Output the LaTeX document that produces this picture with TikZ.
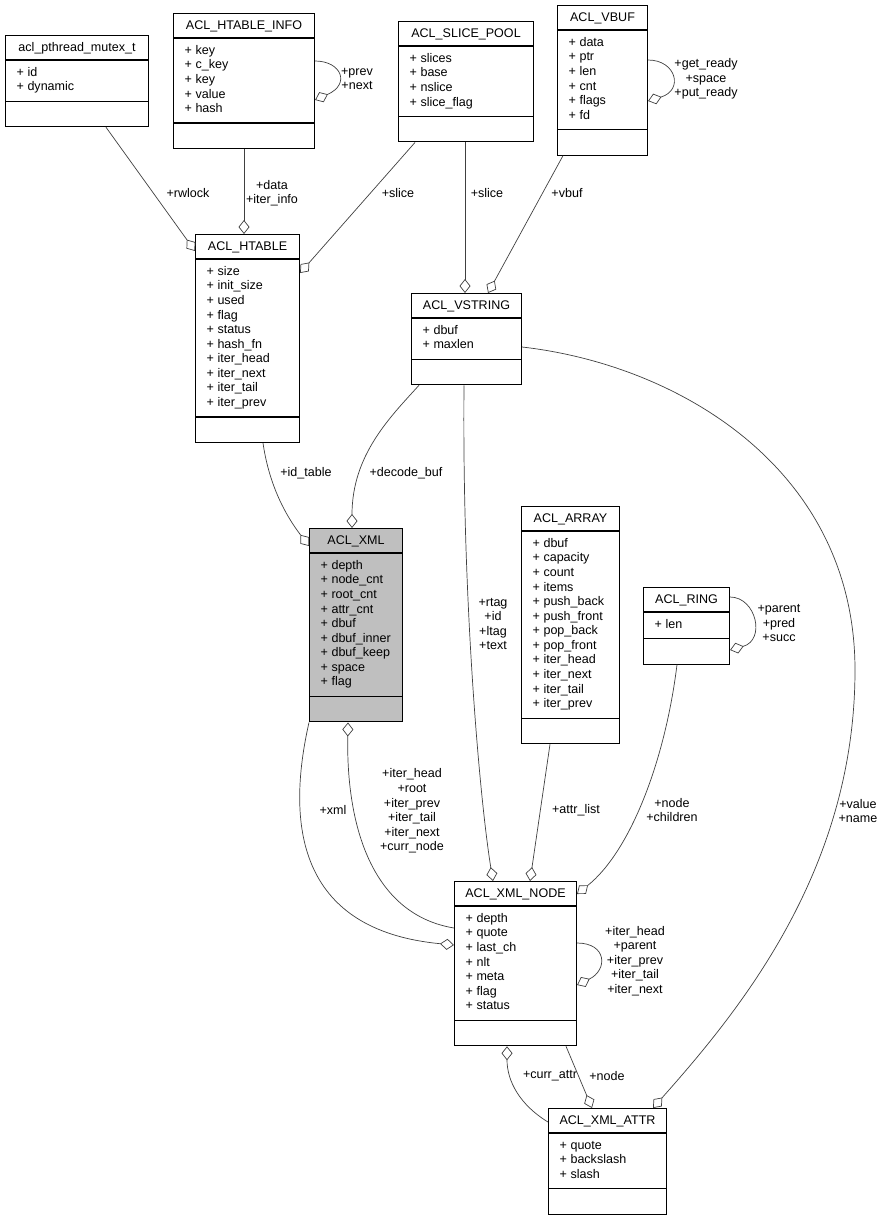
\documentclass[tikz,border=0pt]{standalone}
\usepackage{fontspec}
\setmainfont{Liberation Sans}
\usetikzlibrary{arrows.meta, calc}
\definecolor{EdgeGray}{HTML}{404040}
\definecolor{FocusGray}{HTML}{BFBFBF}
\newcommand{\umlfont}{\fontsize{10.7}{12.45}\selectfont}
\tikzset{
  classbox/.style={draw=black, line width=0.9pt, fill=white, inner sep=0pt, anchor=north west},
  classtitle/.style={inner sep=0pt, anchor=base, font=\umlfont},
  classattr/.style={inner sep=0pt, anchor=north west, align=left, font=\umlfont},
  classrule/.style={draw=black, line width=0.9pt},
  aggr/.style={-{Diamond[open, length=4.2mm, width=3.3mm]}, draw=EdgeGray, line width=0.6pt},
  lbl/.style={inner sep=0pt, align=center, font=\umlfont}
}
% class box: [style] name, x, y (top left, px), width, title, #attrs, attrs
\newcommand{\umlclass}[8][]{%
  \node[classbox, #1, minimum width={#5*0.03cm}, minimum height={(62+14.6*#7)*0.03cm}] (#2) at (#3,#4) {};
  \node[classtitle] (#2-title) at ($(#2.north)+(0,16.5)$) {#6};
  \draw[classrule] ($(#2.north west)+(0,25)$) -- ($(#2.north east)+(0,25)$);
  \draw[classrule] ($(#2.north west)+(0,{37+14.6*#7})$) -- ($(#2.north east)+(0,{37+14.6*#7})$);
  \node[classattr] (#2-attrs) at ($(#2.north west)+(11.5,30.8)$) {\strut#8};
}

\begin{document}
\begin{tikzpicture}[x=0.03cm, y=-0.03cm]
\useasboundingbox (0,0) rectangle (883,1220);

% classes
\umlclass{mutex}{5}{35}{143}{acl\_pthread\_mutex\_t}{2}{+ id\\+ dynamic}
\umlclass{hinfo}{173}{13}{141}{ACL\_HTABLE\_INFO}{5}{+ key\\+ c\_key\\+ key\\+ value\\+ hash}
\umlclass{spool}{398}{21}{135}{ACL\_SLICE\_POOL}{4}{+ slices\\+ base\\+ nslice\\+ slice\_flag}
\umlclass{vbuf}{557}{5}{90}{ACL\_VBUF}{6}{+ data\\+ ptr\\+ len\\+ cnt\\+ flags\\+ fd}
\umlclass{htable}{195}{234}{104}{ACL\_HTABLE}{10}{+ size\\+ init\_size\\+ used\\+ flag\\+ status\\+ hash\_fn\\+ iter\_head\\+ iter\_next\\+ iter\_tail\\+ iter\_prev}
\umlclass{vstring}{411}{293}{110}{ACL\_VSTRING}{2}{+ dbuf\\+ maxlen}
\umlclass[fill=FocusGray]{xml}{309}{528}{93}{ACL\_XML}{9}{+ depth\\+ node\_cnt\\+ root\_cnt\\+ attr\_cnt\\+ dbuf\\+ dbuf\_inner\\+ dbuf\_keep\\+ space\\+ flag}
\umlclass{array}{521}{506}{98}{ACL\_ARRAY}{12}{+ dbuf\\+ capacity\\+ count\\+ items\\+ push\_back\\+ push\_front\\+ pop\_back\\+ pop\_front\\+ iter\_head\\+ iter\_next\\+ iter\_tail\\+ iter\_prev}
\umlclass{ring}{643}{587}{86}{ACL\_RING}{1}{+ len}
\umlclass{xmlnode}{454}{881}{122}{ACL\_XML\_NODE}{7}{+ depth\\+ quote\\+ last\_ch\\+ nlt\\+ meta\\+ flag\\+ status}
\umlclass{xmlattr}{548}{1108}{118}{ACL\_XML\_ATTR}{3}{+ quote\\+ backslash\\+ slash}

% top row
\draw[aggr] ($(mutex.south west)+(101,0)$) -- ($(htable.north west)+(0,17)$);
\node[lbl] (lbl-rwlock) at (188,193) {+rwlock};
\draw[aggr] ($(hinfo.south west)+(71,0)$) -- ($(htable.north west)+(49,0)$);
\node[lbl] (lbl-data) at (272,193) {+data\\+iter\_info};
\draw[aggr] ($(hinfo.north east)+(0,48)$) .. controls ($(hinfo.north east)+(26,48)$) and ($(hinfo.north east)+(36,71)$) .. ($(hinfo.north east)+(0,87)$);
\node[lbl] (lbl-prev) at (357,79) {+prev\\+next};
\draw[aggr] ($(spool.south west)+(17,0)$) -- ($(htable.north east)+(0,39)$);
\node[lbl] (lbl-slice1) at (398,193) {+slice};
\draw[aggr] ($(spool.south west)+(67,0)$) -- ($(vstring.north west)+(54,0)$);
\node[lbl] (lbl-slice2) at (487,193) {+slice};
\draw[aggr] ($(vbuf.south west)+(6,0)$) -- ($(vstring.north west)+(77,0)$);
\node[lbl] (lbl-vbuf) at (567,193) {+vbuf};
\draw[aggr] ($(vbuf.north east)+(0,55)$) .. controls ($(vbuf.north east)+(28,55)$) and ($(vbuf.north east)+(36,85)$) .. ($(vbuf.north east)+(0,96)$);
\node[lbl] (lbl-ready) at (706,79) {+get\_ready\\+space\\+put\_ready};

% into ACL_XML
\draw[aggr] ($(htable.south west)+(68,0)$) .. controls ($(htable.south west)+(75,48)$) and ($(htable.south west)+(95,78)$) .. ($(xml.north west)+(0,18)$);
\node[lbl] (lbl-idtable) at (306,473) {+id\_table};
\draw[aggr] ($(vstring.south west)+(8,0)$) .. controls ($(vstring.south west)+(-21,32)$) and ($(xml.north west)+(43,-73)$) .. ($(xml.north west)+(43,0)$);
\node[lbl] (lbl-decode) at (406,473) {+decode\_buf};

% into ACL_XML_NODE
\draw[aggr] ($(vstring.south west)+(53,0)$) .. controls ($(vstring.south west)+(51,216)$) and ($(xmlnode.north west)+(26,-80)$) .. ($(xmlnode.north west)+(39,0)$);
\node[lbl] (lbl-rtag) at (493,624) {+rtag\\+id\\+ltag\\+text};
\draw[aggr] ($(array.south west)+(29,0)$) -- ($(xmlnode.north west)+(76,0)$);
\node[lbl] (lbl-attrlist) at (576,810) {+attr\_list};
\draw[aggr] ($(ring.south west)+(34,0)$) .. controls ($(ring.south west)+(22,97)$) and ($(ring.south west)+(-13,187)$) .. ($(xmlnode.north east)+(0,13)$);
\node[lbl] (lbl-children) at (672,810) {+node\\+children};
\draw[aggr] ($(ring.north east)+(0,10)$) .. controls ($(ring.north east)+(26,10)$) and ($(ring.north east)+(36,53)$) .. ($(ring.north east)+(0,63)$);
\node[lbl] (lbl-parent) at (779,623) {+parent\\+pred\\+succ};
\draw[aggr] (xml.south west) .. controls ($(xml.south west)+(-27,119)$) and ($(xml.south west)+(1,209)$) .. ($(xmlnode.north west)+(0,64)$);
\node[lbl] (lbl-xml) at (333,810) {+xml};
\draw[aggr] ($(xmlnode.north west)+(0,47)$) .. controls ($(xmlnode.north west)+(-79,34)$) and ($(xml.south west)+(37,109)$) .. ($(xml.south west)+(39,0)$);
\node[lbl] (lbl-iter) at (412,811) {+iter\_head\\+root\\+iter\_prev\\+iter\_tail\\+iter\_next\\+curr\_node};
\draw[aggr] ($(xmlnode.north east)+(0,62)$) .. controls ($(xmlnode.north east)+(30,62)$) and ($(xmlnode.north east)+(31,89)$) .. ($(xmlnode.north east)+(0,104)$);
\node[lbl] (lbl-nodeloop) at (635,961) {+iter\_head\\+parent\\+iter\_prev\\+iter\_tail\\+iter\_next};

% into ACL_XML_ATTR
\draw[aggr] ($(vstring.north east)+(0,54)$) .. controls (680,365) and (855,470) .. (855,670) .. controls (855,870) and (740,1010) .. ($(xmlattr.north west)+(105,0)$);
\node[lbl] (lbl-value) at (858,811) {+value\\+name};
\draw[aggr] ($(xmlattr.north west)+(0,14)$) .. controls ($(xmlattr.north west)+(-28,-3)$) and ($(xmlnode.south west)+(53,35)$) .. ($(xmlnode.south west)+(53,0)$);
\node[lbl] (lbl-currattr) at (550,1076) {+curr\_attr};
\draw[aggr] ($(xmlnode.south west)+(112,0)$) -- ($(xmlattr.north west)+(44,0)$);
\node[lbl] (lbl-node) at (607,1076) {+node};
\end{tikzpicture}
\end{document}
